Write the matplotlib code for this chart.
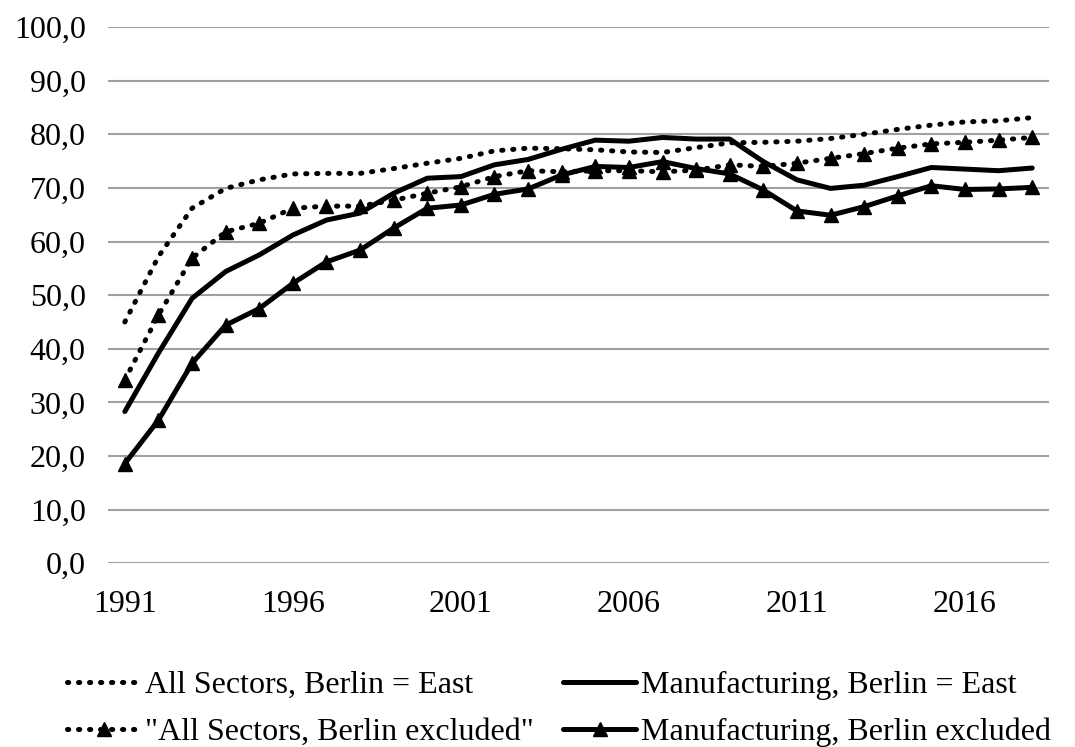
import matplotlib
matplotlib.use("Agg")
import matplotlib.pyplot as plt
from matplotlib.ticker import FuncFormatter

plt.rcParams['font.family'] = ['Liberation Serif', 'DejaVu Serif']

years = list(range(1991, 2019))

# All Sectors, Berlin = East
all_east = [45.0, 57.2, 66.2, 69.9, 71.5, 72.6, 72.7, 72.7, 73.6, 74.6,
            75.5, 76.9, 77.4, 77.3, 77.1, 76.7, 76.6, 77.5, 78.4, 78.5,
            78.7, 79.2, 80.0, 80.9, 81.7, 82.3, 82.5, 83.1]
# "All Sectors, Berlin excluded"
all_excl = [34.2, 46.3, 56.9, 61.8, 63.4, 66.2, 66.6, 66.6, 67.7, 69.0,
            70.2, 72.1, 73.2, 73.0, 73.2, 73.2, 73.0, 73.3, 74.3, 74.0,
            74.6, 75.5, 76.4, 77.4, 78.2, 78.5, 78.9, 79.4]
# Manufacturing, Berlin = East
manu_east = [28.3, 39.2, 49.4, 54.4, 57.5, 61.2, 64.0, 65.3, 69.0, 71.8,
             72.1, 74.3, 75.3, 77.2, 78.9, 78.7, 79.4, 79.1, 79.1, 74.9,
             71.5, 69.9, 70.5, 72.1, 73.8, 73.5, 73.2, 73.7]
# Manufacturing, Berlin excluded
manu_excl = [18.6, 26.7, 37.3, 44.4, 47.5, 52.2, 56.2, 58.4, 62.5, 66.2,
             66.8, 68.8, 69.8, 72.4, 74.0, 73.8, 74.9, 73.6, 72.6, 69.6,
             65.7, 64.9, 66.5, 68.5, 70.4, 69.7, 69.8, 70.1]

fig = plt.figure(figsize=(10.75, 7.47), dpi=100)
ax = fig.add_axes([0.1005, 0.2459, 0.8753, 0.718])

x = list(range(len(years)))
dot = (0, (0.25, 1.95))

ax.plot(x, all_east, color='black', lw=3.6, linestyle=dot, dash_capstyle='round',
        label='All Sectors, Berlin = East')
ax.plot(x, manu_east, color='black', lw=3.6, solid_capstyle='round',
        label='Manufacturing, Berlin = East')
ax.plot(x, all_excl, color='black', lw=3.6, linestyle=dot, dash_capstyle='round',
        marker='^', markersize=10, label='"All Sectors, Berlin excluded"')
ax.plot(x, manu_excl, color='black', lw=3.6, solid_capstyle='round',
        marker='^', markersize=10, label='Manufacturing, Berlin excluded')

ax.set_xlim(-0.5, len(years) - 0.5)
ax.set_ylim(0, 100)
ax.set_yticks(range(0, 101, 10))
ax.yaxis.set_major_formatter(FuncFormatter(lambda v, p: ('%.1f' % v).replace('.', ',')))
ax.set_xticks(x[::5])
ax.set_xticklabels([str(y) for y in years[::5]])
ax.grid(axis='y', color='#a0a0a0', lw=1.5)
ax.set_axisbelow(True)
for s in ax.spines.values():
    s.set_visible(False)
ax.tick_params(axis='both', length=0, labelsize=23)
ax.tick_params(axis='y', pad=16)
ax.tick_params(axis='x', pad=19)

handles, labels = ax.get_legend_handles_labels()
order = [0, 2, 1, 3]
fig.legend([handles[i] for i in order], [labels[i] for i in order],
           loc='lower center', bbox_to_anchor=(0.52, 0.0), ncol=2, frameon=False,
           fontsize=23, handlelength=2.3, handletextpad=0.15, columnspacing=0.9,
           labelspacing=0.55, borderpad=0.0, borderaxespad=0.0)

fig.savefig('out.png', dpi=100)
